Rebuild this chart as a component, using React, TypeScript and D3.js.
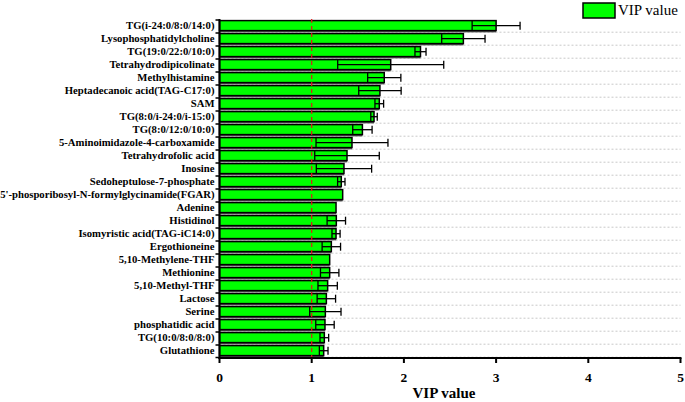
import React from "react";
import * as d3 from "d3";

const categories = [
  "TG(i-24:0/8:0/14:0)",
  "Lysophosphatidylcholine",
  "TG(19:0/22:0/10:0)",
  "Tetrahydrodipicolinate",
  "Methylhistamine",
  "Heptadecanoic acid(TAG-C17:0)",
  "SAM",
  "TG(8:0/i-24:0/i-15:0)",
  "TG(8:0/12:0/10:0)",
  "5-Aminoimidazole-4-carboxamide",
  "Tetrahydrofolic acid",
  "Inosine",
  "Sedoheptulose-7-phosphate",
  "5'-phosporibosyl-N-formylglycinamide(FGAR)",
  "Adenine",
  "Histidinol",
  "Isomyristic acid(TAG-iC14:0)",
  "Ergothioneine",
  "5,10-Methylene-THF",
  "Methionine",
  "5,10-Methyl-THF",
  "Lactose",
  "Serine",
  "phosphatidic acid",
  "TG(10:0/8:0/8:0)",
  "Glutathione",
];

const vipValues = [
  3.0, 2.645, 2.18, 1.857, 1.787, 1.74, 1.733, 1.676, 1.55, 1.437, 1.383, 1.35, 1.321,
  1.336, 1.264, 1.267, 1.264, 1.213, 1.195, 1.195, 1.173, 1.159, 1.148, 1.144, 1.137, 1.13,
];

const vipErrors = [
  0.26, 0.235, 0.06, 0.575, 0.18, 0.23, 0.047, 0.035, 0.105, 0.39, 0.35, 0.30, 0.04,
  0, 0, 0.1, 0.044, 0.1, 0, 0.1, 0.105, 0.1, 0.17, 0.1, 0.047, 0.047,
];

const xTicks = [0, 1, 2, 3, 4, 5];
const thresholdValue = 1;
const legendLabel = "VIP value";
const xAxisTitle = "VIP value";

export default function App() {
  const width = 685;
  const height = 402;
  const x = d3.scaleLinear().domain([0, 5]).range([219.5, 680.5]);
  const y = d3.scaleBand<string>().domain(categories).range([19.2, 357.2]).paddingInner(0).paddingOuter(0);
  const bw = y.bandwidth();
  const axisY = 358;
  const serif = "'Liberation Serif', 'Times New Roman', serif";
  const green = "#00ff00";

  return (
    <svg width={width} height={height} style={{ position: "absolute", left: 0, top: 0, background: "#fff" }}>
      {/* gridlines */}
      {categories.map((c, i) => (
        <line key={"g" + i} x1={x(0)} x2={x(5)} y1={(y(c) as number) + bw} y2={(y(c) as number) + bw}
          stroke="#c8c8c8" strokeWidth={1} strokeDasharray="2,2" />
      ))}
      {/* bars */}
      {categories.map((c, i) => {
        const top = y(c) as number;
        const cy = top + 6.5;
        const v = vipValues[i];
        const e = vipErrors[i];
        const x0 = x(0);
        const xv = x(v);
        return (
          <g key={"b" + i}>
            <rect x={x0} y={top + 11.2} width={xv - x0} height={2} fill="#555" />
            <rect x={x0} y={top + 1.4} width={xv - x0} height={10} fill={green} stroke="#000" strokeWidth={1.5} />
            {e > 0 && (
              <g stroke="#000" strokeWidth={1.3}>
                <line x1={x(v - e)} x2={x(v + e)} y1={cy} y2={cy} />
                <line x1={x(v - e)} x2={x(v - e)} y1={top + 1.8} y2={top + 11} />
                <line x1={x(v + e)} x2={x(v + e)} y1={top + 2.5} y2={top + 10.5} />
              </g>
            )}
          </g>
        );
      })}
      {/* threshold line */}
      <line x1={x(thresholdValue)} x2={x(thresholdValue)} y1={19} y2={axisY} stroke="#e01818" strokeWidth={1.2} strokeDasharray="4,3" />
      {/* y axis */}
      <line x1={x(0)} x2={x(0)} y1={19} y2={axisY + 1} stroke="#000" strokeWidth={2} />
      {categories.map((c, i) => (
        <line key={"yt" + i} x1={x(0) - 4} x2={x(0)} y1={(y(c) as number) + 0.8} y2={(y(c) as number) + 0.8} stroke="#000" strokeWidth={1.5} />
      ))}
      <line x1={x(0) - 4} x2={x(0)} y1={axisY - 0.5} y2={axisY - 0.5} stroke="#000" strokeWidth={1.5} />
      {categories.map((c, i) => (
        <text key={"yl" + i} x={x(0) - 5} y={(y(c) as number) + 6.5} dy="0.35em" textAnchor="end"
          fontFamily={serif} fontWeight="bold" fontSize={10.7} fill="#000">{c}</text>
      ))}
      {/* x axis */}
      <line x1={x(0) - 1} x2={x(5) + 1} y1={axisY} y2={axisY} stroke="#000" strokeWidth={2} />
      {xTicks.map((t) => (
        <g key={"xt" + t}>
          <line x1={x(t)} x2={x(t)} y1={axisY} y2={axisY + 5} stroke="#000" strokeWidth={2} />
          <text x={x(t)} y={382} textAnchor="middle" fontFamily={serif} fontWeight="bold" fontSize={13.5} fill="#000">{t}</text>
        </g>
      ))}
      <text x={(x(0) + x(5)) / 2 - 6} y={398} textAnchor="middle" fontFamily={serif} fontWeight="bold" fontSize={15} fill="#000">{xAxisTitle}</text>
      {/* legend */}
      <rect x={583} y={3} width={32} height={15} fill={green} stroke="#000" strokeWidth={1.5} />
      <text x={618} y={15} fontFamily={serif} fontSize={15} fill="#000">{legendLabel}</text>
    </svg>
  );
}
